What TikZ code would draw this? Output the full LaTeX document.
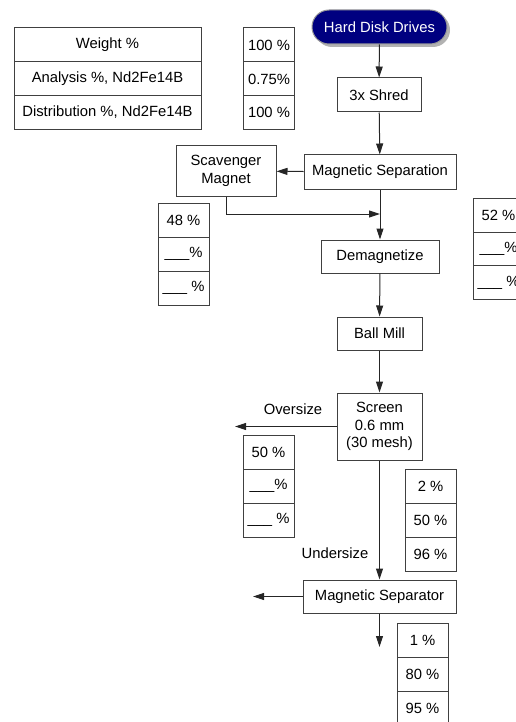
\documentclass[tikz,border=0pt]{standalone}
\usepackage{fontspec}
\setmainfont{Liberation Sans}
\usetikzlibrary{arrows.meta,shadows}
\newcommand\fs{\fontsize{14.8}{17.5}\selectfont}
\tikzset{
  >={Triangle[length=11pt,width=7pt]},
  unit/.style={draw=black!75, line width=1pt, fill=white, inner sep=0pt, align=center, font=\fs},
  pct/.style={unit, minimum width=51pt, minimum height=34pt},
  feed/.style={unit, draw=black!40, fill={rgb,255:red,0;green,0;blue,128}, text=white, rounded corners=17pt,
    drop shadow={shadow xshift=3pt, shadow yshift=-3pt, fill=black!30, opacity=1}},
  flow/.style={->, line width=1pt, black!85},
  lbl/.style={inner sep=0.75pt, font=\fs}
}
\begin{document}
\begin{tikzpicture}[x=1pt,y=1pt,yscale=-1,xscale=1]
\useasboundingbox (0,0) rectangle (516,722);

% Legend
\node [unit, minimum width=187pt, minimum height=34pt] (legw) at (107.5,45) {Weight \%};
\node [unit, minimum width=187pt, minimum height=34pt] (lega) at (107.5,79) {Analysis \%, Nd2Fe14B};
\node [unit, minimum width=187pt, minimum height=34pt] (legd) at (107.5,112.5) {Distribution \%, Nd2Fe14B};
\node [pct] (valw) at (269,45) {100 \%};
\node [pct] (vala) at (269,79) {0.75\%};
\node [pct] (vald) at (269,112.5) {100 \%};

% Process units
\node [feed, minimum width=135pt, minimum height=34pt] (hdd) at (379.5,27) {Hard Disk Drives};
\node [unit, minimum width=84pt, minimum height=34pt] (shred) at (379,95) {3x Shred};
\node [unit, minimum width=152pt, minimum height=34pt] (magsep) at (380,172) {Magnetic Separation};
\node [unit, minimum width=100pt, minimum height=50pt] (scav) at (226,171) {Scavenger\\Magnet};
\node [unit, minimum width=118pt, minimum height=33pt] (demag) at (380,256.5) {Demagnetize};
\node [unit, minimum width=85pt, minimum height=33pt] (ball) at (379.5,333.5) {Ball Mill};
\node [unit, minimum width=85pt, minimum height=67pt] (screen) at (379.5,426.5) {Screen\\0.6 mm\\(30 mesh)};
\node [unit, minimum width=153pt, minimum height=33pt] (magsepr) at (379.5,596.5) {Magnetic Separator};

% Balance boxes
\node [pct] (scavw) at (183.5,220) {48 \%};
\node [pct] (scava) at (183.5,254) {\_\_\_\%};
\node [pct] (scavd) at (183.5,288) {\_\_\_ \%};
\node [pct] (demw) at (498.5,215.5) {52 \%};
\node [pct] (dema) at (498.5,249) {\_\_\_\%};
\node [pct] (demd) at (498.5,282.5) {\_\_\_ \%};
\node [pct] (overw) at (268.5,452.5) {50 \%};
\node [pct] (overa) at (268.5,486) {\_\_\_\%};
\node [pct] (overd) at (268.5,520) {\_\_\_ \%};
\node [pct] (underw) at (430.5,486) {2 \%};
\node [pct] (undera) at (430.5,520) {50 \%};
\node [pct] (underd) at (430.5,554) {96 \%};
\node [pct] (magw) at (422.5,640) {1 \%};
\node [pct] (maga) at (422.5,674) {80 \%};
\node [pct] (magd) at (422.5,708) {95 \%};

% Free ends
\coordinate (join) at (380,214);
\coordinate (overend) at (235,426.5);
\coordinate (nonmag) at (253,596.5);
\coordinate (magend) at (379.5,647);

% Connectors
\draw [flow] (hdd) -- (shred);
\draw [flow] (shred) -- (magsep);
\draw [flow] (magsep) -- (scav);
\draw [flow] (magsep) -- (demag);
\draw [flow] (scav.south) |- (join);
\draw [flow] (demag) -- (ball);
\draw [flow] (ball) -- (screen);
\draw [flow] (screen.west) -- (overend);
\draw [flow] (screen) -- (magsepr);
\draw [flow] (magsepr.west) -- (nonmag);
\draw [flow] (magsepr.south) -- (magend);

% Text Node
\node [lbl] (oversize) at (293,409) {Oversize};
% Text Node
\node [lbl] (undersize) at (335,553) {Undersize};
\end{tikzpicture}
\end{document}
